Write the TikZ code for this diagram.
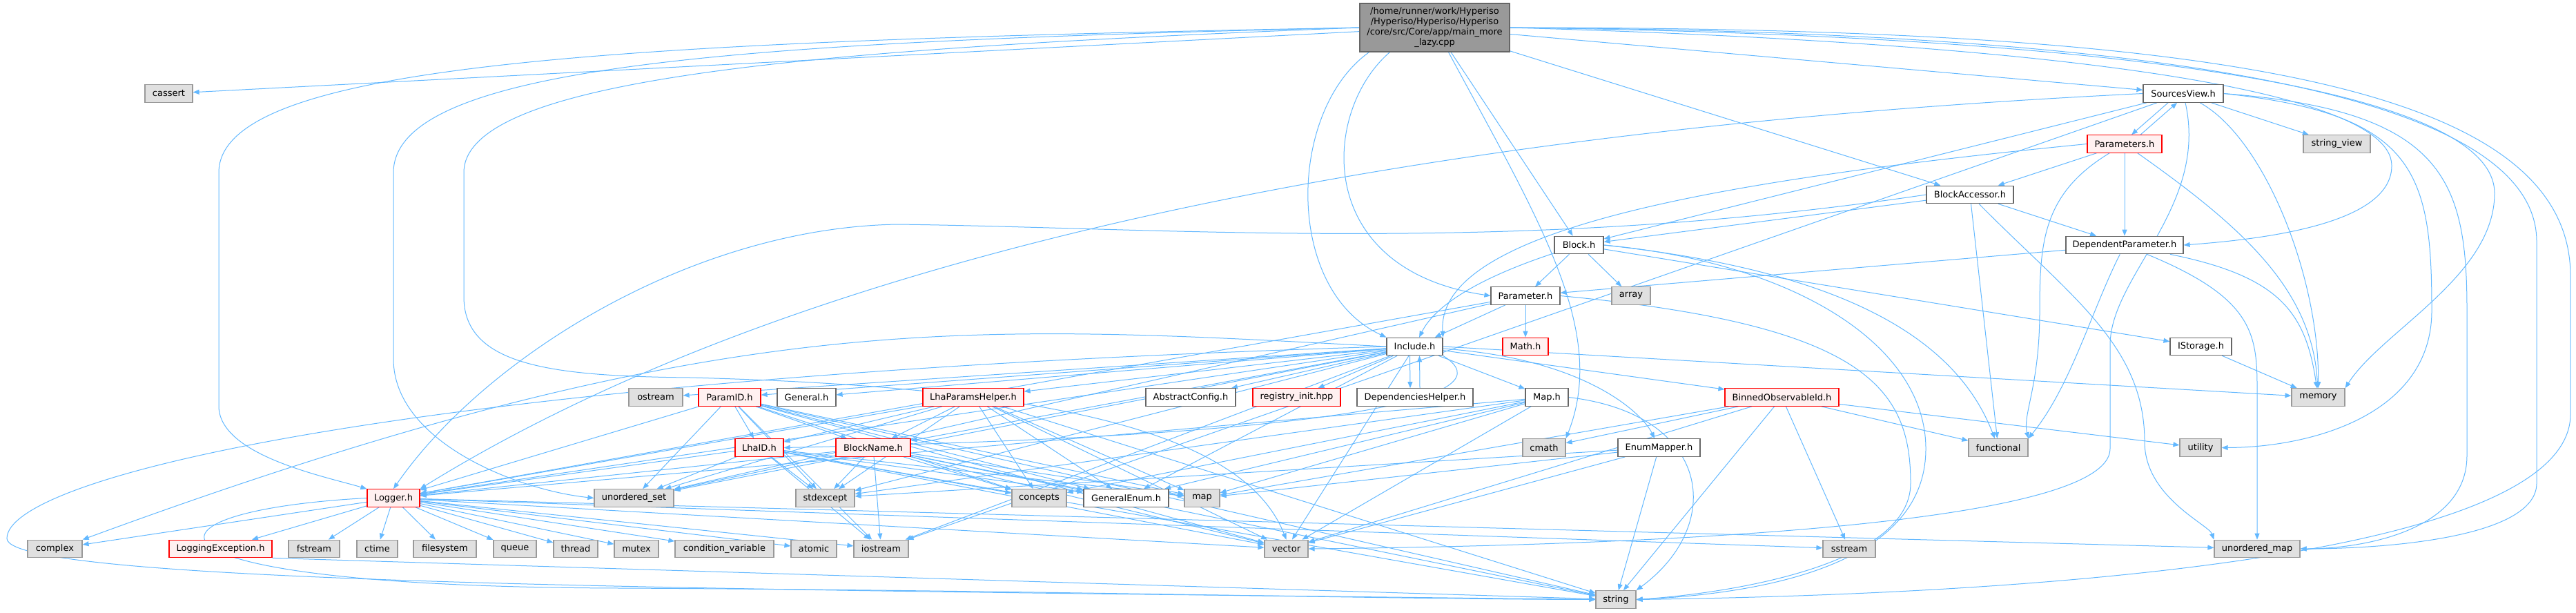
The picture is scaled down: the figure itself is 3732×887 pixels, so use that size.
\documentclass[tikz,border=0pt]{standalone}
\usepackage{fontspec}
\setmainfont{DejaVu Sans}
\usepackage{tikz}
\usetikzlibrary{arrows.meta}
\definecolor{edgeblue}{HTML}{63B8FF}
\definecolor{sysfill}{HTML}{E0E0E0}
\definecolor{sysdraw}{HTML}{999999}
\definecolor{hdrdraw}{HTML}{666666}
\definecolor{redfill}{HTML}{FFF0F0}
\definecolor{rootfill}{HTML}{999999}
\pgfdeclarelayer{background}
\pgfsetlayers{background,main}

\begin{document}
\begin{tikzpicture}[x=1pt, y=-1pt,
    every node/.style={rectangle, minimum height=25.5pt, inner sep=0pt, line width=1.2pt, font=\fontsize{13}{15}\selectfont},
    sysbox/.style={fill=sysfill, draw=sysdraw},
    hdrbox/.style={fill=white, draw=hdrdraw},
    redbox/.style={fill=redfill, draw=red},
    rootbox/.style={fill=rootfill, draw=hdrdraw, align=center, minimum height=70pt},
    dep/.style={draw=edgeblue, line width=1pt, -{Triangle[length=9pt,width=7pt]}}]
    \useasboundingbox (0,0) rectangle (3732,887);

    % file under inspection
    \node[rootbox, minimum width=217pt] (main) at (2078.5,40) {/home/runner/work/Hyperiso\\/Hyperiso/Hyperiso/Hyperiso\\/core/src/Core/app/main\_more\\\_lazy.cpp};

    % headers, row by row
    \node[sysbox, minimum width=69pt] (cassert) at (244.5,135.5) {cassert};
    \node[hdrbox, minimum width=116pt] (sview) at (3163,135.5) {SourcesView.h};
    \node[redbox, minimum width=108pt] (params) at (3078,208.5) {Parameters.h};
    \node[sysbox, minimum width=97pt] (strview) at (3385.5,208.5) {string\_view};
    \node[hdrbox, minimum width=126pt] (baccess) at (2854,282) {BlockAccessor.h};
    \node[hdrbox, minimum width=71pt] (block) at (2287.5,355) {Block.h};
    \node[hdrbox, minimum width=170pt] (depparam) at (3078,355) {DependentParameter.h};
    \node[hdrbox, minimum width=100pt] (param) at (2210,428.5) {Parameter.h};
    \node[sysbox, minimum width=56pt] (array) at (2363,428.5) {array};
    \node[hdrbox, minimum width=81pt] (incl) at (2049.5,502) {Include.h};
    \node[redbox, minimum width=66pt] (math) at (2210,502) {Math.h};
    \node[hdrbox, minimum width=89pt] (istorage) at (3188.5,502) {IStorage.h};

    \node[sysbox, minimum width=78pt] (ostream) at (950,575.5) {ostream};
    \node[redbox, minimum width=90pt] (paramid) at (1057,575.5) {ParamID.h};
    \node[hdrbox, minimum width=85pt] (general) at (1168.5,575.5) {General.h};
    \node[redbox, minimum width=146pt] (lhahelper) at (1410,575.5) {LhaParamsHelper.h};
    \node[hdrbox, minimum width=130pt] (absconfig) at (1725,575.5) {AbstractConfig.h};
    \node[redbox, minimum width=127pt] (reginit) at (1878.5,575.5) {registry\_init.hpp};
    \node[hdrbox, minimum width=168pt] (dephelper) at (2050,575.5) {DependenciesHelper.h};
    \node[hdrbox, minimum width=62pt] (mapH) at (2241,575.5) {Map.h};
    \node[redbox, minimum width=165pt] (binned) at (2581.5,575.5) {BinnedObservableId.h};
    \node[sysbox, minimum width=77pt] (memory) at (3358.5,575.5) {memory};

    \node[redbox, minimum width=70pt] (lhaid) at (1100,648.5) {LhaID.h};
    \node[redbox, minimum width=108pt] (blockname) at (1265,648.5) {BlockName.h};
    \node[sysbox, minimum width=62pt] (cmath) at (2237,648.5) {cmath};
    \node[hdrbox, minimum width=119pt] (enummap) at (2403.5,648.5) {EnumMapper.h};
    \node[sysbox, minimum width=86pt] (functional) at (2895,648.5) {functional};
    \node[sysbox, minimum width=60pt] (utility) at (3188,648.5) {utility};

    \node[redbox, minimum width=76pt] (logger) at (570,721.5) {Logger.h};
    \node[sysbox, minimum width=115pt] (uset) at (918.5,721.5) {unordered\_set};
    \node[sysbox, minimum width=85pt] (stdexcept) at (1195.5,721.5) {stdexcept};
    \node[sysbox, minimum width=79pt] (concepts) at (1505.5,721.5) {concepts};
    \node[hdrbox, minimum width=123pt] (genenum) at (1631.5,721.5) {GeneralEnum.h};
    \node[sysbox, minimum width=51pt] (map) at (1741.5,721.5) {map};

    \node[sysbox, minimum width=79pt] (complex) at (79.5,795) {complex};
    \node[redbox, minimum width=149pt] (logexc) at (319.5,795) {LoggingException.h};
    \node[sysbox, minimum width=74pt] (fstream) at (455,795) {fstream};
    \node[sysbox, minimum width=59pt] (ctime) at (546.5,795) {ctime};
    \node[sysbox, minimum width=91pt] (filesystem) at (644.5,795) {filesystem};
    \node[sysbox, minimum width=62pt] (queue) at (746,795) {queue};
    \node[sysbox, minimum width=64pt] (thread) at (834,795) {thread};
    \node[sysbox, minimum width=64pt] (mutex) at (922,795) {mutex};
    \node[sysbox, minimum width=143pt] (condvar) at (1049.5,795) {condition\_variable};
    \node[sysbox, minimum width=66pt] (atomic) at (1179,795) {atomic};
    \node[sysbox, minimum width=79pt] (iostream) at (1276.5,795) {iostream};
    \node[sysbox, minimum width=63pt] (vector) at (1863.5,795) {vector};
    \node[sysbox, minimum width=76pt] (sstream) at (2679,795) {sstream};
    \node[sysbox, minimum width=124pt] (umap) at (3270,795) {unordered\_map};
    \node[sysbox, minimum width=58pt] (string) at (2341,868.5) {string};

    \begin{pgfonlayer}{background}
    % main_more_lazy.cpp
    \draw[dep] (main) -- (cassert);
    \draw[dep] (main) -- (sview);
    \draw[dep] (main) -- (block);
    \draw[dep] (main) -- (baccess);
    \draw[dep] ([xshift=-65pt]main.south) .. controls (1915,160) and (1900,390) .. (param.west);
    \draw[dep] ([xshift=-95pt]main.south) .. controls (1865,160) and (1860,420) .. (incl.north west);
    \draw[dep] ([xshift=20pt]main.south) .. controls (2230,320) and (2330,480) .. (cmath.north east);
    \draw[dep] (main.west) .. controls (900,60) and (317,90) .. (317,250) -- (317,590) .. controls (320,660) and (470,690) .. (logger.north west);
    \draw[dep] (main.west) .. controls (1100,60) and (570,90) .. (570,250) -- (570,520) .. controls (570,640) and (750,710) .. (uset.west);
    \draw[dep] (main.west) .. controls (1200,70) and (672,110) .. (672,250) -- (672,430) .. controls (672,530) and (800,545) .. (1000,547) .. controls (1500,560) and (1800,620) .. (vector.north);
    \draw[dep] (main.east) .. controls (2900,60) and (3465,120) .. (3465,240) .. controls (3465,320) and (3300,345) .. (depparam.east);
    \draw[dep] (main.east) .. controls (3000,50) and (3614,120) .. (3614,280) .. controls (3614,400) and (3450,480) .. (memory.north east);
    \draw[dep] (main.east) .. controls (3100,45) and (3675,130) .. (3675,350) -- (3675,700) .. controls (3675,780) and (3450,795) .. (umap.east);
    \draw[dep] (main.east) .. controls (3200,40) and (3724,120) .. (3724,400) -- (3724,600) .. controls (3724,800) and (3000,860) .. (string.east);

    % SourcesView.h and Parameters.h
    \draw[dep] ([xshift=-22pt]sview.south) -- ([xshift=10pt]params.north);
    \draw[dep] ([xshift=23pt]params.north) -- ([xshift=-9pt]sview.south);
    \draw[dep] (sview) -- (strview);
    \draw[dep] (sview) -- (block);
    \draw[dep] (sview) .. controls (3280,200) and (3360,400) .. (memory);
    \draw[dep] (sview.east) .. controls (3500,165) and (3523,250) .. (3523,450) .. controls (3523,600) and (3350,648) .. (utility.east);
    \draw[dep] (sview.east) .. controls (3540,160) and (3574,260) .. (3574,450) -- (3574,660) .. controls (3574,770) and (3420,795) .. (umap.east);
    \draw[dep] (sview) .. controls (3200,300) and (3057,400) .. (3057,500) -- (3057,650) .. controls (3057,760) and (2400,790) .. (vector.east);
    \draw[dep] (sview.west) .. controls (2400,170) and (1300,280) .. (logger.north east);
    \draw[dep] (sview) -- (iostream);
    \draw[dep] (params) -- (baccess);
    \draw[dep] (params) -- (depparam);
    \draw[dep] (params.west) .. controls (2500,260) and (2080,330) .. (incl.north east);
    \draw[dep] (params) .. controls (2960,280) and (2955,350) .. (2955,450) .. controls (2955,560) and (2930,600) .. (functional.north east);
    \draw[dep] (params) .. controls (3250,330) and (3350,420) .. (memory);

    % BlockAccessor.h, Block.h, DependentParameter.h
    \draw[dep] (baccess) -- (block);
    \draw[dep] (baccess) -- (depparam);
    \draw[dep] (baccess) -- (functional);
    \draw[dep] (baccess) .. controls (3000,430) and (3107,500) .. (3107,640) .. controls (3107,720) and (3200,760) .. (umap.north west);
    \draw[dep] (baccess.west) .. controls (2200,370) and (1700,330) .. (1300,325) .. controls (1000,330) and (700,520) .. (logger.north);
    \draw[dep] (block) -- (param);
    \draw[dep] (block) -- (array);
    \draw[dep] (block) .. controls (2150,400) and (2080,440) .. (incl);
    \draw[dep] (block) -- (istorage);
    \draw[dep] (block.east) .. controls (2650,390) and (2830,480) .. (functional);
    \draw[dep] (block.east) .. controls (2600,380) and (2790,500) .. (2790,650) .. controls (2790,820) and (2550,860) .. (string.east);
    \draw[dep] (depparam) -- (param);
    \draw[dep] (depparam) .. controls (3030,450) and (3000,560) .. (functional.north east);
    \draw[dep] (depparam) .. controls (3260,430) and (3270,480) .. (3270,560) -- (umap);
    \draw[dep] (depparam) .. controls (3300,400) and (3340,450) .. (memory);

    % Parameter.h, IStorage.h
    \draw[dep] (param) -- (incl);
    \draw[dep] (param) -- (math);
    \draw[dep] (param.east) .. controls (2700,470) and (2768,560) .. (2768,700) .. controls (2768,820) and (2500,860) .. (string.east);
    \draw[dep] (param) -- (logger);
    \draw[dep] (param) -- (uset);
    \draw[dep] (istorage) -- (memory);

    % Include.h
    \draw[dep] (incl) -- (ostream);
    \draw[dep] (incl) -- (paramid);
    \draw[dep] (incl) -- (general);
    \draw[dep] (incl) -- (lhahelper);
    \draw[dep] (incl) -- (absconfig);
    \draw[dep] (incl) -- (reginit);
    \draw[dep] ([xshift=-7pt]incl.south) -- ([xshift=-7pt]dephelper.north);
    \draw[dep] ([xshift=7pt]dephelper.north) -- ([xshift=7pt]incl.south);
    \draw[dep] (incl) -- (mapH);
    \draw[dep] (incl) -- (binned);
    \draw[dep] (incl.east) -- (memory);
    \draw[dep] (incl) .. controls (2300,520) and (2380,600) .. (enummap);
    \draw[dep] (incl.west) .. controls (1400,470) and (1050,440) .. (complex.north east);
    \draw[dep] (incl) -- (logger);
    \draw[dep] (incl.south east) .. controls (2180,570) and (2000,630) .. (lhaid.east);
    \draw[dep] (incl) -- (blockname);
    \draw[dep] (incl) -- (uset);
    \draw[dep] (incl) -- (stdexcept);
    \draw[dep] (incl) -- (genenum);
    \draw[dep] (incl) -- (vector);
    \draw[dep] (incl) -- (iostream);
    \draw[dep] (incl.west) .. controls (600,545) and (10,690) .. (10,780) .. controls (10,850) and (1200,855) .. (string.west);

    % Map.h, BinnedObservableId.h, EnumMapper.h
    \draw[dep] (mapH) -- (logger);
    \draw[dep] (mapH) -- (stdexcept);
    \draw[dep] (mapH) -- (concepts);
    \draw[dep] (mapH) -- (genenum);
    \draw[dep] (mapH) -- (map);
    \draw[dep] (mapH) -- (vector);
    \draw[dep] (mapH.east) .. controls (2480,600) and (2500,760) .. (string.north east);
    \draw[dep] (binned) -- (cmath);
    \draw[dep] (binned) -- (functional);
    \draw[dep] (binned) -- (utility);
    \draw[dep] (binned) -- (vector);
    \draw[dep] (binned) -- (string);
    \draw[dep] (binned) -- (sstream);
    \draw[dep] (binned) -- (map);
    \draw[dep] (enummap) -- (map);
    \draw[dep] (enummap) -- (stdexcept);
    \draw[dep] (enummap) -- (vector);
    \draw[dep] (enummap) -- (string);

    % ParamID.h, LhaParamsHelper.h, LhaID.h, BlockName.h
    \draw[dep] (paramid) -- (lhaid);
    \draw[dep] (paramid) -- (blockname);
    \draw[dep] (paramid) -- (logger);
    \draw[dep] (paramid) -- (uset);
    \draw[dep] (paramid) -- (stdexcept);
    \draw[dep] (paramid) -- (concepts);
    \draw[dep] (paramid) -- (genenum);
    \draw[dep] (paramid) -- (map);
    \draw[dep] (paramid) -- (iostream);
    \draw[dep] (paramid) -- (vector);
    \draw[dep] (paramid) -- (string);
    \draw[dep] (lhahelper) -- (lhaid);
    \draw[dep] (lhahelper) -- (blockname);
    \draw[dep] (lhahelper) -- (logger);
    \draw[dep] (lhahelper) -- (uset);
    \draw[dep] (lhahelper) -- (stdexcept);
    \draw[dep] (lhahelper) -- (concepts);
    \draw[dep] (lhahelper) -- (genenum);
    \draw[dep] (lhahelper) -- (map);
    \draw[dep] (lhahelper) -- (vector);
    \draw[dep] (lhahelper) -- (string);
    \draw[dep] (lhaid) -- (logger);
    \draw[dep] (lhaid) -- (uset);
    \draw[dep] (lhaid) -- (stdexcept);
    \draw[dep] (lhaid) -- (concepts);
    \draw[dep] (lhaid) -- (genenum);
    \draw[dep] (lhaid) -- (map);
    \draw[dep] (lhaid) -- (iostream);
    \draw[dep] (lhaid) -- (vector);
    \draw[dep] (lhaid) -- (string);
    \draw[dep] (blockname) -- (logger);
    \draw[dep] (blockname) -- (uset);
    \draw[dep] (blockname) -- (stdexcept);
    \draw[dep] (blockname) -- (concepts);
    \draw[dep] (blockname) -- (genenum);
    \draw[dep] (blockname) -- (map);
    \draw[dep] (blockname) -- (iostream);
    \draw[dep] (blockname) -- (vector);
    \draw[dep] (blockname) -- (string);

    % Logger.h
    \draw[dep] (logger) -- (complex);
    \draw[dep] (logger) -- (logexc);
    \draw[dep] (logger) -- (fstream);
    \draw[dep] (logger) -- (ctime);
    \draw[dep] (logger) -- (filesystem);
    \draw[dep] (logger) -- (queue);
    \draw[dep] (logger) -- (thread);
    \draw[dep] (logger) -- (mutex);
    \draw[dep] (logger) -- (condvar);
    \draw[dep] (logger) -- (atomic);
    \draw[dep] (logger) -- (iostream);
    \draw[dep] (logger) -- (vector);
    \draw[dep] (logger) -- (sstream);
    \draw[dep] (logger) -- (umap);
    \draw[dep] (logger.west) .. controls (180,740) and (160,850) .. (900,852) .. controls (1500,855) and (2000,868) .. (string.west);
    \draw[dep] (logexc.south east) -- (string);
    \end{pgfonlayer}
\end{tikzpicture}
\end{document}
